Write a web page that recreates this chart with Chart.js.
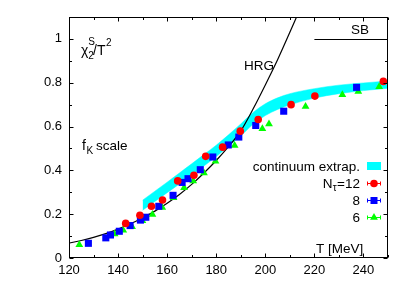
<!DOCTYPE html>
<html>
<head>
<meta charset="utf-8">
<script src="https://cdn.jsdelivr.net/npm/chart.js@4.4.1/dist/chart.umd.min.js"></script>
<style>
  html, body { margin: 0; padding: 0; background: #fff; }
  #wrap { width: 409px; height: 286px; }
</style>
</head>
<body>
<div id="wrap"><canvas id="chiChart" width="409" height="286"></canvas></div>
<script>
// axis ticks
const xTicks = [120, 140, 160, 180, 200, 220, 240];
const yTicks = [0, 0.2, 0.4, 0.6, 0.8, 1];
const yTickLabels = ['0', '0.2', '0.4', '0.6', '0.8', '1'];

// lattice data, N_tau = 12 / 8 / 6
const nt12T = [143.1, 148.9, 153.6, 158.1, 164.3, 170.9, 175.7, 182.6, 189.8, 197.1, 210.5, 220.2, 248.1];
const nt12Y = [0.158, 0.195, 0.236, 0.265, 0.352, 0.378, 0.464, 0.506, 0.579, 0.632, 0.700, 0.739, 0.806];

const nt8T = [127.9, 135.0, 136.9, 140.5, 144.9, 149.1, 151.3, 156.6, 162.4, 166.1, 168.5, 173.5, 178.6, 184.9, 189.2, 196.1, 207.5, 237.2];
const nt8Y = [0.067, 0.092, 0.105, 0.122, 0.148, 0.173, 0.186, 0.236, 0.286, 0.345, 0.362, 0.403, 0.461, 0.516, 0.552, 0.605, 0.670, 0.779];

const nt6T = [124.2, 138.6, 142.1, 145.7, 149.9, 154.0, 158.0, 162.6, 166.9, 170.6, 175.0, 179.7, 187.5, 198.8, 201.5, 216.4, 231.4, 237.9, 246.4];
const nt6Y = [0.060, 0.110, 0.127, 0.143, 0.170, 0.199, 0.231, 0.275, 0.321, 0.352, 0.388, 0.442, 0.514, 0.590, 0.612, 0.691, 0.745, 0.760, 0.782];

// continuum extrapolation band
const bandT  = [150, 155, 160, 165, 170, 175, 180, 185, 190, 195, 200, 205, 210, 220, 230, 240, 250];
const bandLo = [0.218, 0.258, 0.298, 0.338, 0.378, 0.420, 0.463, 0.510, 0.557, 0.610, 0.650, 0.678, 0.699, 0.730, 0.750, 0.764, 0.775];
const bandHi = [0.264, 0.305, 0.346, 0.388, 0.430, 0.472, 0.515, 0.562, 0.612, 0.664, 0.704, 0.731, 0.750, 0.773, 0.789, 0.799, 0.808];

// hadron resonance gas curve
const hrgT = [120, 125, 130, 135, 140, 145, 150, 155, 160, 165, 170, 175, 180, 185, 190, 195, 200, 205, 210, 215, 220];
const hrgY = [0.068, 0.080, 0.094, 0.111, 0.132, 0.156, 0.184, 0.214, 0.250, 0.290, 0.336, 0.388, 0.445, 0.508, 0.580, 0.680, 0.790, 0.905, 1.030, 1.160, 1.300];

const pts = (xs, ys) => xs.map((x, i) => ({ x: x, y: ys[i] }));

const RED = '#ff0000', BLUE = '#0000ff', GREEN = '#00ff00', CYAN = '#00ffff';
const FONT = '"Liberation Sans", Arial, sans-serif';

function drawMark(ctx, kind, x, y, color) {
    ctx.fillStyle = color;
    ctx.beginPath();
    if (kind === 'circle') {
        ctx.arc(x, y, 3.8, 0, Math.PI * 2);
    } else if (kind === 'rect') {
        ctx.rect(x - 3.5, y - 3.5, 7, 7);
    } else {
        ctx.moveTo(x, y - 4.5);
        ctx.lineTo(x + 3.9, y + 2.3);
        ctx.lineTo(x - 3.9, y + 2.3);
        ctx.closePath();
    }
    ctx.fill();
}

function text(ctx, s, x, y, size, align) {
    ctx.font = size + 'px ' + FONT;
    ctx.textAlign = align || 'left';
    ctx.textBaseline = 'alphabetic';
    ctx.fillStyle = '#000';
    ctx.fillText(s, x, y);
    return ctx.measureText(s).width;
}

// gnuplot-like frame with inward ticks on all four sides
const frameTicks = {
    id: 'frameTicks',
    afterDatasetsDraw(chart) {
        const { ctx, chartArea: a, scales: { x, y } } = chart;
        const L = Math.round(a.left) + 0.5, R = Math.round(a.right) - 0.5;
        const T = Math.round(a.top) + 0.5, B = Math.round(a.bottom) - 0.5;
        ctx.save();
        ctx.strokeStyle = '#000';
        ctx.lineWidth = 1;
        ctx.beginPath();
        for (let v = 120; v <= 250; v += 10) {
            const px = Math.round(x.getPixelForValue(v)) + 0.5;
            const len = v % 20 === 0 ? 4 : 2.5;
            ctx.moveTo(px, B); ctx.lineTo(px, B - len);
            ctx.moveTo(px, T); ctx.lineTo(px, T + len);
        }
        for (let k = 0; k <= 11; k++) {
            const py = Math.round(y.getPixelForValue(k / 10)) + 0.5;
            const len = k % 2 === 0 ? 4 : 2.5;
            ctx.moveTo(L, py); ctx.lineTo(L + len, py);
            ctx.moveTo(R, py); ctx.lineTo(R - len, py);
        }
        ctx.stroke();
        ctx.strokeRect(L, T, R - L, B - T);

        // Stefan-Boltzmann limit
        ctx.beginPath();
        ctx.lineWidth = 1.2;
        const sb = Math.round(y.getPixelForValue(1)) + 0.5;
        ctx.moveTo(x.getPixelForValue(220), sb);
        ctx.lineTo(R, sb);
        ctx.stroke();
        ctx.restore();
    },
    afterDraw(chart) {
        const { ctx } = chart;
        ctx.save();
        // y label chi_2^S / T^2
        let w = text(ctx, 'χ', 81, 55, 14);
        text(ctx, '2', 81 + w, 59, 10);
        text(ctx, 'S', 81 + w, 45, 10);
        w = text(ctx, '/T', 93, 55, 14);
        text(ctx, '2', 93 + w + 0.5, 46, 10);

        // f_K scale
        w = text(ctx, 'f', 82, 150, 14);
        text(ctx, 'K', 82 + w + 0.5, 154, 10);
        text(ctx, 'scale', 96, 150, 13.5);

        text(ctx, 'HRG', 244, 70, 13.5);
        text(ctx, 'SB', 351, 34, 13.5);
        text(ctx, 'T [MeV]', 316, 253, 13.5);

        // legend
        text(ctx, 'continuum extrap.', 360, 171, 13.5, 'right');
        ctx.fillStyle = CYAN;
        ctx.fillRect(367, 162, 14, 8);

        const rows = [
            { y: 183, kind: 'circle', color: RED },
            { y: 200, kind: 'rect', color: BLUE },
            { y: 217, kind: 'tri', color: GREEN }
        ];
        w = text(ctx, '=12', 360, 188, 13.5, 'right');
        text(ctx, 'N', 360 - w - 4.5, 188, 13.5, 'right');
        text(ctx, 'τ', 360 - w - 2.3, 191, 10, 'center');
        text(ctx, '8', 360, 205, 13.5, 'right');
        text(ctx, '6', 360, 222, 13.5, 'right');
        rows.forEach(r => {
            ctx.strokeStyle = r.color;
            ctx.lineWidth = 1;
            ctx.beginPath();
            ctx.moveTo(367, r.y + 0.5); ctx.lineTo(381, r.y + 0.5);
            ctx.moveTo(367.5, r.y - 1.5); ctx.lineTo(367.5, r.y + 2.5);
            ctx.moveTo(380.5, r.y - 1.5); ctx.lineTo(380.5, r.y + 2.5);
            ctx.stroke();
            drawMark(ctx, r.kind, 374, r.y + 0.5, r.color);
        });
        ctx.restore();
    }
};

// eslint-disable-next-line no-undef
const chart = new Chart(document.getElementById('chiChart'), {
    type: 'scatter',
    data: {
        datasets: [
            {
                label: 'N_tau=12',
                data: pts(nt12T, nt12Y),
                pointStyle: 'circle',
                pointRadius: 3.8,
                pointBorderWidth: 0,
                backgroundColor: RED,
                borderColor: RED,
                clip: false,
                order: 1
            },
            {
                label: '8',
                data: pts(nt8T, nt8Y),
                pointStyle: 'rect',
                pointRadius: 5,
                pointBorderWidth: 0,
                backgroundColor: BLUE,
                borderColor: BLUE,
                clip: false,
                order: 2
            },
            {
                label: '6',
                data: pts(nt6T, nt6Y),
                pointStyle: 'triangle',
                pointRadius: 4.5,
                pointBorderWidth: 0,
                backgroundColor: GREEN,
                borderColor: GREEN,
                clip: false,
                order: 3
            },
            {
                label: 'HRG',
                data: pts(hrgT, hrgY),
                showLine: true,
                pointRadius: 0,
                borderColor: '#000',
                borderWidth: 1.2,
                cubicInterpolationMode: 'monotone',
                fill: false,
                order: 4
            },
            {
                label: 'band low',
                data: pts(bandT, bandLo),
                showLine: true,
                pointRadius: 0,
                borderWidth: 0.5,
                borderColor: CYAN,
                cubicInterpolationMode: 'monotone',
                fill: false,
                order: 5
            },
            {
                label: 'continuum extrap.',
                data: pts(bandT, bandHi),
                showLine: true,
                pointRadius: 0,
                borderWidth: 0.5,
                borderColor: CYAN,
                backgroundColor: CYAN,
                cubicInterpolationMode: 'monotone',
                fill: '-1',
                order: 6
            }
        ]
    },
    options: {
        responsive: false,
        animation: false,
        events: [],
        layout: { padding: { left: 0, right: 21, top: 17, bottom: 0 } },
        plugins: {
            legend: { display: false },
            tooltip: { enabled: false }
        },
        scales: {
            x: {
                type: 'linear',
                min: 120,
                max: 250,
                grid: { display: false, drawTicks: false },
                border: { display: false },
                afterBuildTicks: s => { s.ticks = xTicks.map(v => ({ value: v })); },
                afterFit: s => { s.height = 28; },
                ticks: {
                    color: '#000',
                    font: { family: FONT, size: 13 },
                    padding: 5,
                    maxRotation: 0,
                    callback: v => String(v)
                }
            },
            y: {
                type: 'linear',
                min: 0,
                max: 1.1,
                grid: { display: false, drawTicks: false },
                border: { display: false },
                afterBuildTicks: s => { s.ticks = yTicks.map(v => ({ value: v })); },
                afterFit: s => { s.width = 69; },
                ticks: {
                    color: '#000',
                    font: { family: FONT, size: 13 },
                    padding: 7,
                    callback: (v, i) => yTickLabels[i]
                }
            }
        }
    },
    plugins: [frameTicks]
});
</script>
</body>
</html>
